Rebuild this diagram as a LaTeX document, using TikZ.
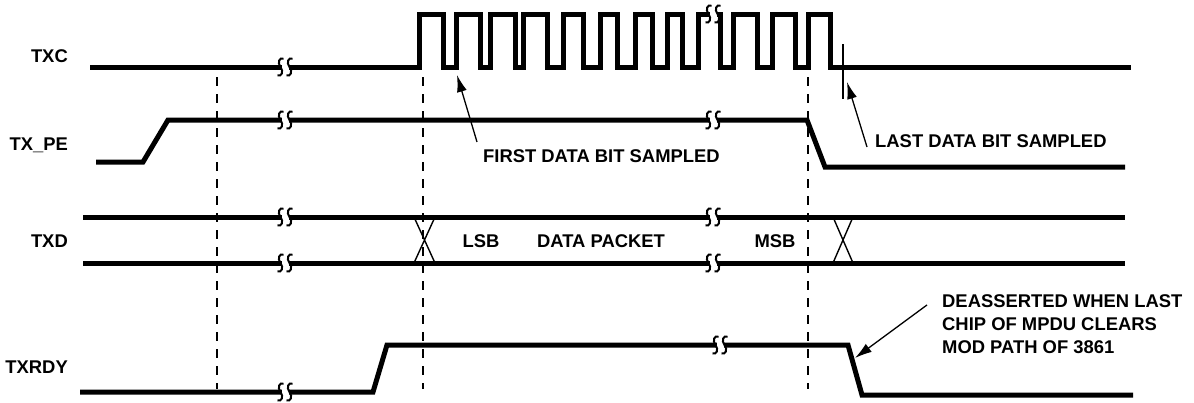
\documentclass[tikz,border=0pt]{standalone}
\usepackage{fontspec}
\setmainfont{Liberation Sans}
\usetikzlibrary{arrows.meta}
\begin{document}
\begin{tikzpicture}[x=1pt,y=-1pt]

    \tikzset{
      sig/.style={line width=5pt},
      guide/.style={line width=2pt, dash pattern=on 9pt off 8pt},
      fine/.style={line width=1.4pt},
      callout/.style={line width=1.3pt, -{Latex[length=17pt,width=10pt]}},
      lab/.style={font=\fontsize{18.4}{23}\selectfont\bfseries, inner sep=0pt},
      brk/.pic={
        \fill[white] (-3.5,-3.6) rectangle (3.5,3.6);
        \foreach \c in {-4.5,4.5}
          \draw[line width=2pt] (\c+3,-8.5) .. controls (\c-1,-10) and (\c-3.5,-4.5) .. (\c,0) .. controls (\c+3.5,4.5) and (\c+1,10) .. (\c-3,8.5);
      },
    }
    \useasboundingbox (0,0) rectangle (1194,402);

    % guides
    \foreach \x in {217,423,808}
      \draw[guide] (\x,77)--(\x,389);

    % signal names
    \node[lab, anchor=base east] (txc) at (68,62.6) {TXC};
    \node[lab, anchor=base east] (txpe) at (68,150) {TX\_PE};
    \node[lab, anchor=base east] (txd) at (68,247) {TXD};
    \node[lab, anchor=base east] (txrdy) at (68,373) {TXRDY};

    % TXC
    \draw[sig] (90,67) \foreach \r/\f in {419/443,456/480,490/515,523/547,563/583,600/617,635/652,667/682,698/720,733/757,772/795,808/830}
      { -- (\r,67) -- (\r,14) -- (\f,14) -- (\f,67) } -- (1131,67);
    \draw[fine] (843,44)--(843,99);

    % TX_PE
    \draw[sig] (96,162)--(143,162)--(168,120)--(807,120)--(825,167)--(1125,167);

    % TXD
    \draw[sig] (83,217)--(1125,217);
    \draw[sig] (83,263)--(1125,263);
    \draw[fine] (414,217)--(435,263) (414,263)--(435,217);
    \draw[fine] (833,217)--(853,263) (833,263)--(853,217);
    \node[lab, anchor=base] (lsb) at (481,247) {LSB};
    \node[lab, anchor=base] (pkt) at (601,247) {DATA PACKET};
    \node[lab, anchor=base] (msb) at (775,247) {MSB};

    % TXRDY
    \draw[sig] (80,392)--(373,392)--(387,345)--(848,345)--(862,395)--(1133,395);

    % breaks
    \foreach \x/\y in {285/67,285/120,285/217,285/263,285/392,713/14,713/120,713/217,713/263,720/345}
      \pic at (\x,\y) {brk};

    % notes
    \node[lab, anchor=base west] (first) at (483,162) {FIRST DATA BIT SAMPLED};
    \node[lab, anchor=base west] (last) at (875,147) {LAST DATA BIT SAMPLED};
    \node[lab, anchor=base west, align=left] (deassert) at (942,353) {DEASSERTED WHEN LAST\\CHIP OF MPDU CLEARS\\MOD PATH OF 3861};
    \coordinate (firsttip) at (457,75);
    \coordinate (lasttip) at (847,82);
    \coordinate (falltip) at (855,358);
    \draw[callout] ([shift={(-6,-7)}]first.north west)--(firsttip);
    \draw[callout] ([xshift=-8pt]last.base west)--(lasttip);
    \draw[callout] ([shift={(-15,11)}]deassert.north west)--(falltip);

\end{tikzpicture}
\end{document}
